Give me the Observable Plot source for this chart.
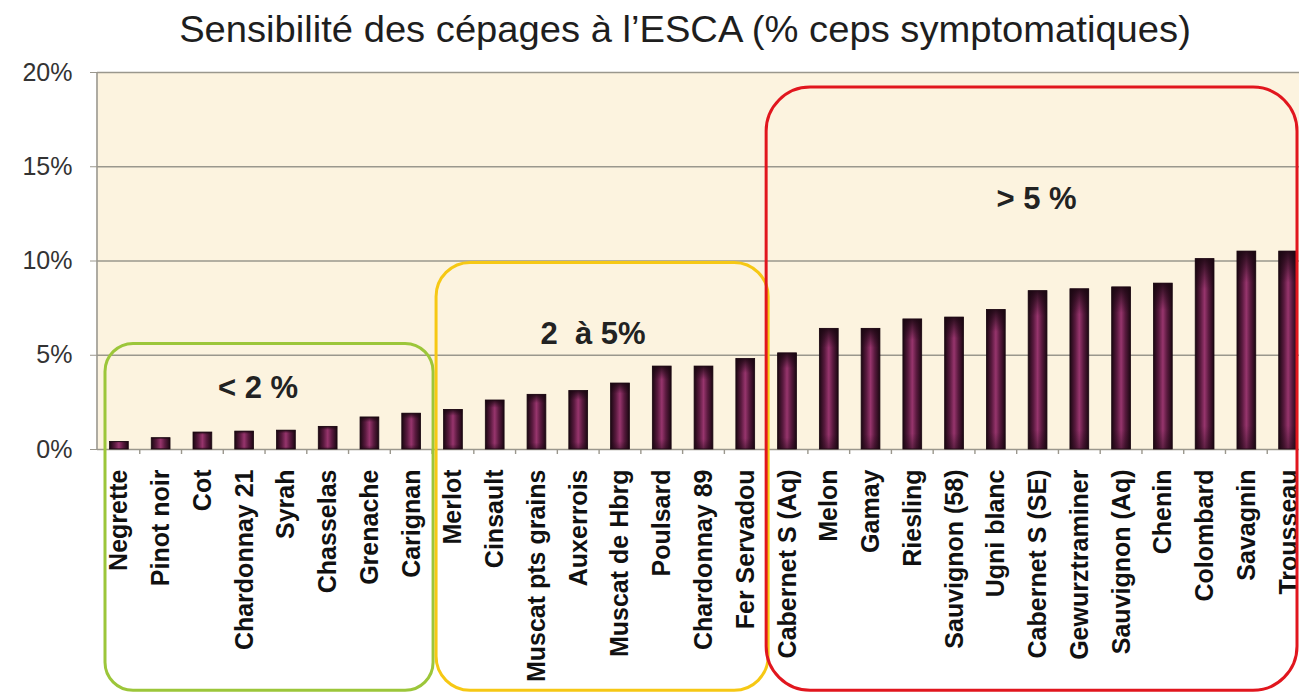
<!DOCTYPE html>
<html>
<head>
<meta charset="utf-8">
<script src="https://cdn.jsdelivr.net/npm/d3@7"></script>
<script src="https://cdn.jsdelivr.net/npm/@observablehq/plot@0.6"></script>
<style>
  html, body { margin: 0; padding: 0; background: #fff; overflow: hidden; }
  body { width: 1299px; height: 693px; position: relative; font-family: "Liberation Sans", Arial, sans-serif; }
  #title { position: absolute; left: 685px; top: 12px; white-space: nowrap; font-size: 36px; line-height: 36px; color: #1e1e1e; transform: translateX(-50%) scaleX(1.06); }
  #chart { position: absolute; left: 0; top: 50px; }
  #chart svg { font-family: "Liberation Sans", Arial, sans-serif; overflow: hidden; }
</style>
</head>
<body>
<svg width="0" height="0" style="position:absolute">
  <defs>
    <linearGradient id="barH" x1="0" x2="1" y1="0" y2="0">
      <stop offset="0" stop-color="#1a0711"/>
      <stop offset="0.28" stop-color="#5a1a3f"/>
      <stop offset="0.5" stop-color="#97356d"/>
      <stop offset="0.72" stop-color="#5a1a3f"/>
      <stop offset="1" stop-color="#1a0711"/>
    </linearGradient>
    <linearGradient id="barV" x1="0" x2="0" y1="0" y2="1">
      <stop offset="0" stop-color="#1a0711" stop-opacity="0.9"/>
      <stop offset="0.16" stop-color="#1a0711" stop-opacity="0"/>
      <stop offset="0.88" stop-color="#1a0711" stop-opacity="0"/>
      <stop offset="1" stop-color="#1a0711" stop-opacity="0.45"/>
    </linearGradient>
  </defs>
</svg>
<div id="title">Sensibilité des cépages à l’ESCA (% ceps symptomatiques)</div>
<div id="chart"></div>
<script>
// ---- data ----
const cultivars = ["Negrette","Pinot noir","Cot","Chardonnay 21","Syrah","Chasselas","Grenache","Carignan",
  "Merlot","Cinsault","Muscat pts grains","Auxerrois","Muscat de Hbrg","Poulsard","Chardonnay 89","Fer Servadou",
  "Cabernet S (Aq)","Melon","Gamay","Riesling","Sauvignon (58)","Ugni blanc","Cabernet S (SE)","Gewurztraminer",
  "Sauvignon (Aq)","Chenin","Colombard","Savagnin","Trousseau"];
const values = [0.4,0.6,0.9,0.95,1.0,1.2,1.7,1.9,
  2.1,2.6,2.9,3.1,3.5,4.4,4.4,4.8,
  5.1,6.4,6.4,6.9,7.0,7.4,8.4,8.5,8.6,8.8,10.1,10.5,10.5];
const yTicks = [0,5,10,15,20];
const groupLabels = ["< 2 %", "2\u00a0 à 5%", "> 5 %"];
const groupFrom = ["Negrette","Merlot","Cabernet S (Aq)"];
const groupTo = ["Carignan","Fer Servadou","Trousseau"];
const groupTop = [5.6, 9.9, 19.2];
const groupBottom = [-12.8, -12.8, -12.8];
const groupLabelY = [3.3, 6.15, 13.3];

// ---- styles ----
const groupColors = ["#9cc63a", "#f6c814", "#e1161e"];
const groupInset = [[7, 1], [4, 2], [0, 0]];
const groupRadius = [28, 34, 44];
const groupLabelDx = [-11, -9, 5];
const gridColor = "#9a978d";

const data = cultivars.map((name, i) => ({name, value: values[i]}));

const W = 1299, H = 643;
const plot = Plot.plot({
  width: W,
  height: H,
  marginTop: 22,
  marginBottom: 244,
  marginLeft: 97,
  marginRight: 0,
  style: {fontFamily: "Liberation Sans, Arial, sans-serif", background: "transparent"},
  x: {domain: cultivars, range: [98, 1309], paddingInner: 0.55, paddingOuter: 0.275, round: false, label: null},
  y: {domain: [0, 20], label: null},
  marks: [
    Plot.frame({fill: "#fcf3df", stroke: "none"}),
    Plot.ruleY(yTicks, {stroke: gridColor, strokeWidth: 1.6}),
    Plot.barY(data, {x: "name", y: "value", fill: "url(#barH)", stroke: "#1a0711", strokeWidth: 0.8}),
    Plot.barY(data, {x: "name", y: "value", fill: "url(#barV)"}),
    Plot.axisY({ticks: yTicks, tickFormat: d => d + "%", tickSize: 7, tickPadding: 18, fontSize: 25,
      stroke: gridColor, fill: "#333", label: null}),
    Plot.axisX({tickRotate: -90, tickSize: 0, tickPadding: 20, fontSize: 25, fontWeight: "bold",
      fill: "#111", label: null})
  ]
});

document.getElementById("chart").appendChild(plot);

// ---- overlay using the plot's own scales ----
const xInfo = plot.scale("x");
const yInfo = plot.scale("y");
const xs = xInfo.apply ? xInfo : Plot.scale({x: xInfo});
const ys = yInfo.apply ? yInfo : Plot.scale({y: yInfo});
const bw = xInfo.bandwidth;
const step = xInfo.step;
const gap = (step - bw) / 2;
const leftOf = c => xs.apply(c) - gap;
const rightOf = c => xs.apply(c) + bw + gap;

const svg = d3.select(plot);
const overlay = svg.append("g");
const y0 = ys.apply(0), yTop = ys.apply(20);
const xLeft = 97;

// left axis line
overlay.append("line").attr("x1", xLeft).attr("x2", xLeft).attr("y1", yTop).attr("y2", y0)
  .attr("stroke", gridColor).attr("stroke-width", 1.6);
// category boundary ticks under the baseline
overlay.selectAll("line.bt").data(cultivars.slice(1)).join("line")
  .attr("x1", c => leftOf(c)).attr("x2", c => leftOf(c))
  .attr("y1", y0).attr("y2", y0 + 5)
  .attr("stroke", gridColor).attr("stroke-width", 1.4);

// grouping boxes
groupLabels.forEach((lab, i) => {
  const x1 = leftOf(groupFrom[i]) + groupInset[i][0];
  const x2 = Math.min(rightOf(groupTo[i]) + groupInset[i][1], W - 2);
  const yt = ys.apply(groupTop[i]);
  const yb = ys.apply(groupBottom[i]);
  overlay.append("rect")
    .attr("x", x1).attr("y", yt).attr("width", x2 - x1).attr("height", yb - yt)
    .attr("rx", groupRadius[i]).attr("ry", groupRadius[i])
    .attr("fill", "none").attr("stroke", groupColors[i]).attr("stroke-width", 3);
  overlay.append("text")
    .attr("x", (x1 + x2) / 2 + groupLabelDx[i]).attr("y", ys.apply(groupLabelY[i]))
    .attr("text-anchor", "middle").attr("dy", "0.35em")
    .attr("font-size", 31).attr("font-weight", "bold").attr("fill", "#222")
    .style("white-space", "pre")
    .text(lab);
});
</script>
</body>
</html>
